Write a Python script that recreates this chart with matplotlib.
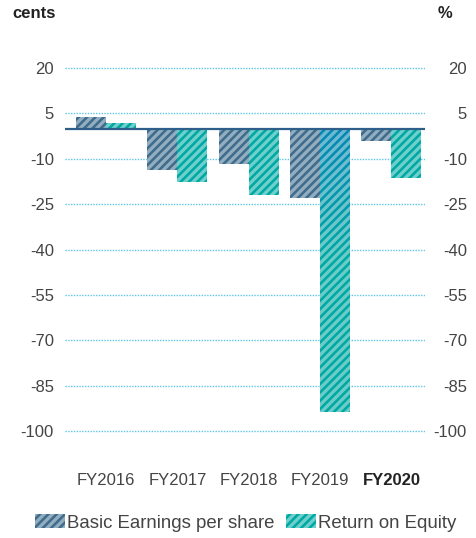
import numpy as np
import matplotlib.pyplot as plt
import matplotlib as mpl
from matplotlib.colors import LinearSegmentedColormap

#Data
years = ["FY2016", "FY2017", "FY2018", "FY2019", "FY2020"]
eps = [3.7, -13.7, -11.6, -23.0, -4.0]
roe = [1.7, -17.7, -21.9, -93.6, -16.2]
yticks = [20, 5, -10, -25, -40, -55, -70, -85, -100]

#Style
mpl.rcParams['font.family'] = ['Liberation Sans', 'DejaVu Sans']
mpl.rcParams['hatch.linewidth'] = 2.4
text_col = "#444444"
eps_dark, eps_light = "#3f6b8c", "#93adc0"
roe_dark, roe_light = "#00a8a3", "#6dd0cc"
roe_blue = "#0686b4"

fig = plt.figure(figsize=(4.77, 5.38), dpi=100)
ax = fig.add_axes([65 / 477, 1 - 437 / 538, 360 / 477, 375 / 538])

x = np.arange(len(years))
w = 0.42
ax.bar(x - w / 2, eps, w, color=eps_dark, edgecolor=eps_light, hatch="////",
       linewidth=0, zorder=2, label="Basic Earnings per share")
roe_bars = ax.bar(x + w / 2, roe, w, color=roe_dark, edgecolor=roe_light, hatch="////",
                  linewidth=0, zorder=2, label="Return on Equity")

#FY2019 ROE bar fades from blue at the top into teal
big = roe_bars[3]
big.set_facecolor("none")
big.set_edgecolor((1, 1, 1, 0.42))
x0, y0 = big.get_x(), big.get_y()
bw, bh = big.get_width(), big.get_height()
grad = np.clip(np.linspace(0, 1, 200) * 2.2, 0, 1).reshape(-1, 1)
cmap = LinearSegmentedColormap.from_list("fade", [roe_blue, roe_dark])
img = ax.imshow(grad, cmap=cmap, aspect="auto", origin="upper",
                extent=(x0, x0 + bw, y0 + bh, y0), zorder=1.9)
img.set_clip_path(big)

#Gridlines and zero line
for t in yticks:
    ax.axhline(t, color="#5cc8e6", lw=1, ls=(0, (1, 1)), zorder=1)
ax.axhline(0, color="#2e5f8a", lw=1.6, zorder=3)

ax.set_xlim(-0.575, 4.47)
ax.set_ylim(-102, 22)
ax.set_yticks(yticks)
ax.set_yticklabels([str(t) for t in yticks])
ax.set_xticks(x)
ax.set_xticklabels(years)
for s in ax.spines.values():
    s.set_visible(False)
ax.tick_params(axis="y", length=0, pad=8, labelsize=12, colors=text_col,
               labelright=True)
ax.tick_params(axis="x", length=0, pad=26, labelsize=12, colors=text_col)
ax.get_xticklabels()[-1].set_fontweight("bold")
ax.get_xticklabels()[-1].set_color("#222222")
#Right labels are right-aligned
for tick in ax.yaxis.get_major_ticks():
    tick.label2.set_horizontalalignment("right")
    tick.label2.set_transform(ax.get_yaxis_transform() +
                              mpl.transforms.ScaledTranslation(42 / 100, 0, fig.dpi_scale_trans))

#Unit labels
fig.text(12 / 477, 1 - 14 / 538, "cents", fontsize=12, fontweight="bold",
         color="#222222", va="center", ha="left")
fig.text(452 / 477, 1 - 14 / 538, "%", fontsize=12, fontweight="bold",
         color="#222222", va="center", ha="right")

#Legend
leg = fig.legend(loc="center", bbox_to_anchor=(0.515, 1 - 523 / 538), ncol=2,
                 frameon=False, fontsize=13.4, handlelength=1.6, handleheight=0.75,
                 handletextpad=0.12, columnspacing=0.6)
for t in leg.get_texts():
    t.set_color(text_col)
leg.legend_handles[1].set_facecolor(roe_dark)

plt.savefig("out.png", dpi=100)
